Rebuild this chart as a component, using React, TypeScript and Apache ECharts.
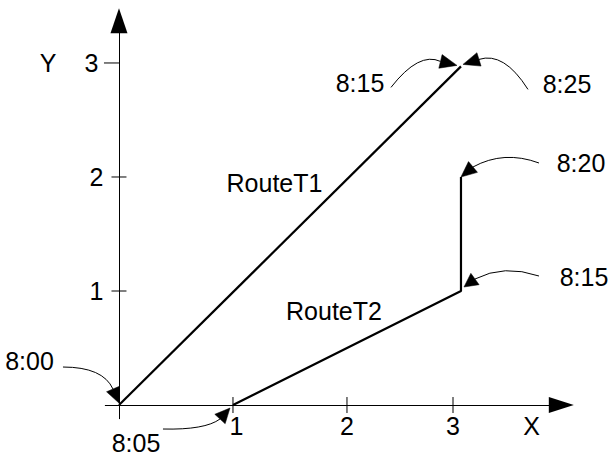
import React, { useEffect, useRef } from 'react';
import * as echarts from 'echarts';

// ---------- data ----------
const routeNames = ['RouteT1', 'RouteT2'];
const routeT1X = [0, 3];
const routeT1Y = [0, 2.97];
const routeT2X = [1, 3, 3];
const routeT2Y = [0, 1, 2];

const xTickValues = [1, 2, 2.93];
const yTickValues = [1, 2, 3];
const xLabelValues = [1.03, 2, 2.93, 3.62];
const xLabelTexts = ['1', '2', '3', 'X'];
const yTickLabels = ['1', '2', '3'];
const yAxisTitle = 'Y';

const annotationTimes = ['8:00', '8:05', '8:15', '8:25', '8:20', '8:15'];
const annotationX = [0, 1, 3, 3, 3, 3];
const annotationY = [0, 0, 2.97, 2.97, 2, 1];

// ---------- layout / style (pixels) ----------
const FONT = '"Liberation Sans", Arial, Helvetica, sans-serif';
const FONT_SIZE = 25;
const HEAD_HALF = 7;

// offsets relative to the annotated data point
const annotationLayout = [
  { text: [-89.5, -44], s: [-56, -38], c: [-16, -38], b: [-6, -16], t: [0, -2] },
  { text: [-97, 38], s: [-70, 24], c: [-28, 25], b: [-13, 14], t: [-3, 3] },
  { text: [-101, 17], s: [-70, 21], c: [-42, -15], b: [-20.5, -5], t: [-4, -1] },
  { text: [106, 18], s: [67, 23], c: [43, -15], b: [18, -7], t: [2, -2] },
  { text: [120, -14], s: [78, -14], c: [43, -27], b: [12, -10], t: [0, 0] },
  { text: [123, -14], s: [78, -15], c: [43, -27], b: [14, -12], t: [3, -4] },
];
const routeLabelOffsets = [
  [-15.5, -52.7],
  [-13, -37],
];
const xTickHalf = 8;
const yTickExtent = [
  [7.5, 7.5],
  [7.5, 7.5],
  [15, 0],
];

export default function App() {
  const ref = useRef<HTMLDivElement>(null);

  useEffect(() => {
    if (!ref.current) return;
    const chart = echarts.init(ref.current, null, { renderer: 'svg' });

    const t1 = routeT1X.map((x, i) => [x, routeT1Y[i]]);
    const t2 = routeT2X.map((x, i) => [x, routeT2Y[i]]);
    const routeMid = [
      [(routeT1X[0] + routeT1X[1]) / 2, (routeT1Y[0] + routeT1Y[1]) / 2],
      [(routeT2X[0] + routeT2X[1]) / 2, (routeT2Y[0] + routeT2Y[1]) / 2],
    ];
    const tickData = [
      ...xTickValues.map((v) => [v, 0]),
      ...yTickValues.map((v) => [0, v]),
    ];

    const textStyle = (text: string, x: number, y: number) => ({
      type: 'text',
      x,
      y,
      style: {
        text,
        fill: '#000',
        fontSize: FONT_SIZE,
        fontFamily: FONT,
        align: 'center',
        verticalAlign: 'middle',
      },
    });

    const option: any = {
      animation: false,
      grid: {
        left: 105.3,
        right: 48.7,
        top: 20.8,
        bottom: 39.3,
        containLabel: false,
        outerBoundsMode: 'none',
      },
      xAxis: {
        type: 'value',
        min: -0.12,
        max: 3.88,
        splitLine: { show: false },
        axisTick: { show: false },
        axisLine: {
          show: true,
          onZero: true,
          symbol: ['none', 'triangle'],
          symbolSize: [16, 25],
          lineStyle: { color: '#000', width: 1 },
        },
        axisLabel: {
          show: true,
          customValues: xLabelValues,
          formatter: (v: number) => {
            let best = 0;
            xLabelValues.forEach((lv, i) => {
              if (Math.abs(lv - v) < Math.abs(xLabelValues[best] - v)) best = i;
            });
            return xLabelTexts[best];
          },
          color: '#000',
          fontSize: FONT_SIZE,
          fontFamily: FONT,
          margin: -5,
        },
      },
      yAxis: {
        type: 'value',
        min: -0.12,
        max: 3.37,
        splitLine: { show: false },
        axisTick: { show: false },
        axisLine: {
          show: true,
          onZero: true,
          symbol: ['none', 'triangle'],
          symbolSize: [17, 25],
          lineStyle: { color: '#000', width: 1 },
        },
        axisLabel: {
          show: true,
          customValues: yTickValues,
          formatter: (v: number) => {
            const i = yTickValues.indexOf(v);
            const lbl = i >= 0 ? yTickLabels[i] : String(v);
            if (i === yTickValues.length - 1) return `{n|${yAxisTitle}}{f|${lbl}}`;
            return `{v|${lbl}}`;
          },
          color: '#000',
          fontSize: FONT_SIZE,
          fontFamily: FONT,
          margin: 2,
          rich: {
            n: { color: '#000', fontSize: FONT_SIZE, fontFamily: FONT, padding: [0, 28, 0, 0] },
            f: { color: '#000', fontSize: FONT_SIZE, fontFamily: FONT, padding: [0, 5, 0, 0] },
            v: { color: '#000', fontSize: FONT_SIZE, fontFamily: FONT },
          },
        },
      },
      series: [
        {
          name: routeNames[0],
          type: 'line',
          data: t1,
          symbol: 'none',
          lineStyle: { color: '#000', width: 2.2 },
          silent: true,
        },
        {
          name: routeNames[1],
          type: 'line',
          data: t2,
          symbol: 'none',
          lineStyle: { color: '#000', width: 2.2 },
          silent: true,
        },
        {
          type: 'custom',
          name: 'ticks',
          clip: false,
          silent: true,
          data: tickData,
          renderItem: (params: any, api: any) => {
            const i = params.dataIndex;
            const p = api.coord([api.value(0), api.value(1)]);
            if (i < xTickValues.length) {
              return {
                type: 'line',
                shape: { x1: p[0], y1: p[1] - xTickHalf, x2: p[0], y2: p[1] + xTickHalf },
                style: { stroke: '#000', lineWidth: 1 },
              };
            }
            const e = yTickExtent[i - xTickValues.length];
            return {
              type: 'line',
              shape: { x1: p[0] - e[0], y1: p[1], x2: p[0] + e[1], y2: p[1] },
              style: { stroke: '#000', lineWidth: 1 },
            };
          },
        },
        {
          type: 'custom',
          name: 'routeLabels',
          clip: false,
          silent: true,
          data: routeMid,
          renderItem: (params: any, api: any) => {
            const i = params.dataIndex;
            const p = api.coord([api.value(0), api.value(1)]);
            const o = routeLabelOffsets[i];
            return textStyle(routeNames[i], p[0] + o[0], p[1] + o[1]);
          },
        },
        {
          type: 'custom',
          name: 'annotations',
          clip: false,
          silent: true,
          data: annotationX.map((x, i) => [x, annotationY[i]]),
          renderItem: (params: any, api: any) => {
            const i = params.dataIndex;
            const p = api.coord([api.value(0), api.value(1)]);
            const L = annotationLayout[i];
            const at = (o: number[]) => [p[0] + o[0], p[1] + o[1]];
            const s = at(L.s);
            const c = at(L.c);
            const b = at(L.b);
            const t = at(L.t);
            const dx = t[0] - b[0];
            const dy = t[1] - b[1];
            const len = Math.hypot(dx, dy) || 1;
            const nx = (-dy / len) * HEAD_HALF;
            const ny = (dx / len) * HEAD_HALF;
            const tp = at(L.text);
            return {
              type: 'group',
              children: [
                {
                  type: 'bezierCurve',
                  shape: { x1: s[0], y1: s[1], x2: b[0], y2: b[1], cpx1: c[0], cpy1: c[1] },
                  style: { stroke: '#000', lineWidth: 1, fill: 'none' },
                },
                {
                  type: 'polygon',
                  shape: { points: [t, [b[0] + nx, b[1] + ny], [b[0] - nx, b[1] - ny]] },
                  style: { fill: '#000', stroke: '#000', lineWidth: 0.5 },
                },
                textStyle(annotationTimes[i], tp[0], tp[1]),
              ],
            };
          },
        },
      ],
    };

    chart.setOption(option);
    return () => chart.dispose();
  }, []);

  return (
    <div
      ref={ref}
      style={{ position: 'absolute', left: 0, top: 0, width: 610, height: 458, background: '#fff' }}
    />
  );
}
